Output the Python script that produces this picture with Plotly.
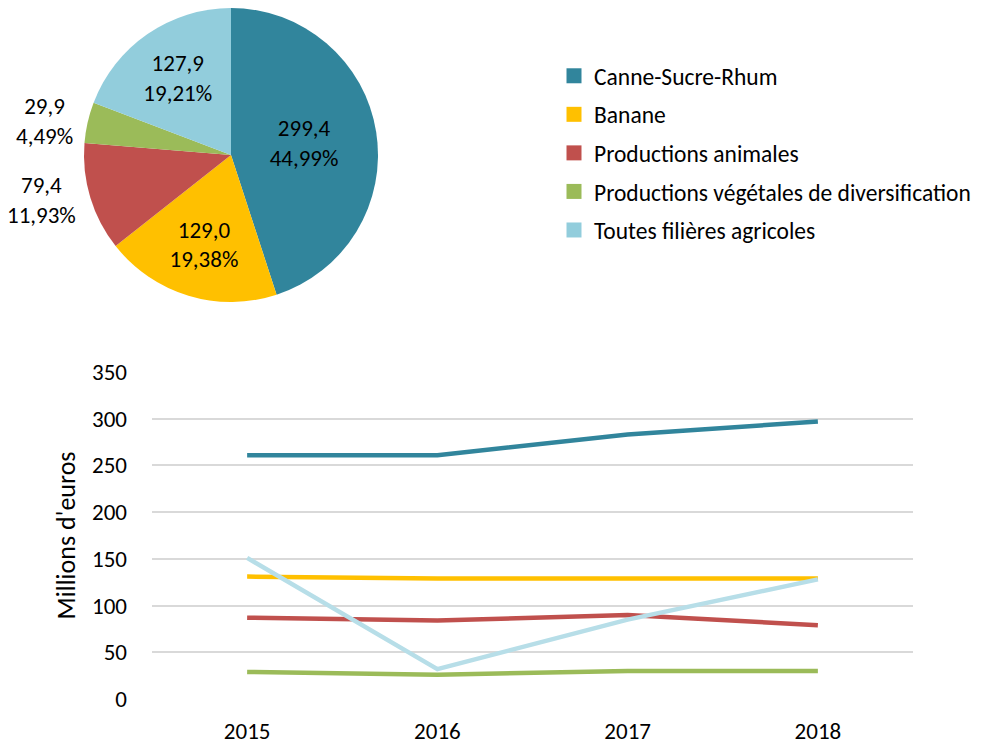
import plotly.graph_objects as go

categories = ["Canne-Sucre-Rhum", "Banane", "Productions animales",
              "Productions végétales de diversification", "Toutes filières agricoles"]
colors = ["#31859C", "#FFC000", "#C0504D", "#9BBB59", "#92CDDC"]
line_colors = ["#31859C", "#FFC000", "#C0504D", "#9BBB59", "#B7DEE8"]

pie_values = [299.4, 129.0, 79.4, 29.9, 127.9]
pie_pcts = [44.99, 19.38, 11.93, 4.49, 19.21]

years = ["2015", "2016", "2017", "2018"]
canne = [261, 261, 283, 297]
banane = [131, 129, 129, 129]
animales = [87, 84, 90, 79]
vegetales = [29, 26, 30, 30]
toutes = [151, 32, 85, 128]
series = [canne, banane, animales, vegetales, toutes]

FONT = "Carlito, Lato, sans-serif"
W, H, OFF = 986, 745, 8  # page body margin offset

def px(x):
    return (x - OFF) / W

def py(y):
    return 1 - (y - OFF) / H

def fr(v, d):
    return f"{v:.{d}f}".replace(".", ",")

pie_text = [f"{fr(v,1)}<br>{fr(p,2)}%" for v, p in zip(pie_values, pie_pcts)]

fig = go.Figure()
fig.add_trace(go.Pie(
    labels=categories, values=pie_values, text=pie_text, textinfo="text",
    marker=dict(colors=colors), sort=False, direction="clockwise", rotation=0,
    textposition=["inside", "inside", "outside", "outside", "inside"],
    insidetextorientation="horizontal",
    textfont=dict(size=23, color="#000000", family=FONT),
    domain=dict(x=[px(70), px(392)], y=[py(302), py(8)]),
    showlegend=False, hoverinfo="label+value",
))

for name, vals, c in zip(categories, series, line_colors):
    fig.add_trace(go.Scatter(x=years, y=vals, mode="lines", name=name,
                             line=dict(color=c, width=4.5), showlegend=False))

for i, (name, c) in enumerate(zip(categories, colors)):
    fig.add_trace(go.Scatter(x=[None], y=[None], mode="markers", name=name,
                             marker=dict(symbol="square", size=15, color=c),
                             legendgroup=f"g{i}", showlegend=True))

fig.update_layout(
    width=W, height=H,
    margin=dict(l=0, r=0, t=0, b=0, autoexpand=False),
    paper_bgcolor="white", plot_bgcolor="white",
    font=dict(family=FONT, size=18, color="#000000"),
    legend=dict(x=px(554), y=py(54), xanchor="left", yanchor="top",
                font=dict(size=23.5, family=FONT), tracegroupgap=5,
                itemwidth=30, bgcolor="rgba(0,0,0,0)"),
    xaxis=dict(domain=[px(152), px(913)], type="category", range=[-0.5, 3.5],
               showgrid=False, showline=False, ticks="", automargin=False,
               tickfont=dict(size=23), ticklabelstandoff=16, anchor="y"),
    yaxis=dict(domain=[py(699), py(372)], range=[0, 350], dtick=50,
               showgrid=True, gridcolor="#D9D9D9", gridwidth=1.5,
               zeroline=False, showline=False, ticks="", automargin=False,
               tickfont=dict(size=23), ticklabelstandoff=24,
               title=dict(text="Millions d'euros", font=dict(size=26), standoff=8)),
)

fig.write_html("out.html")
